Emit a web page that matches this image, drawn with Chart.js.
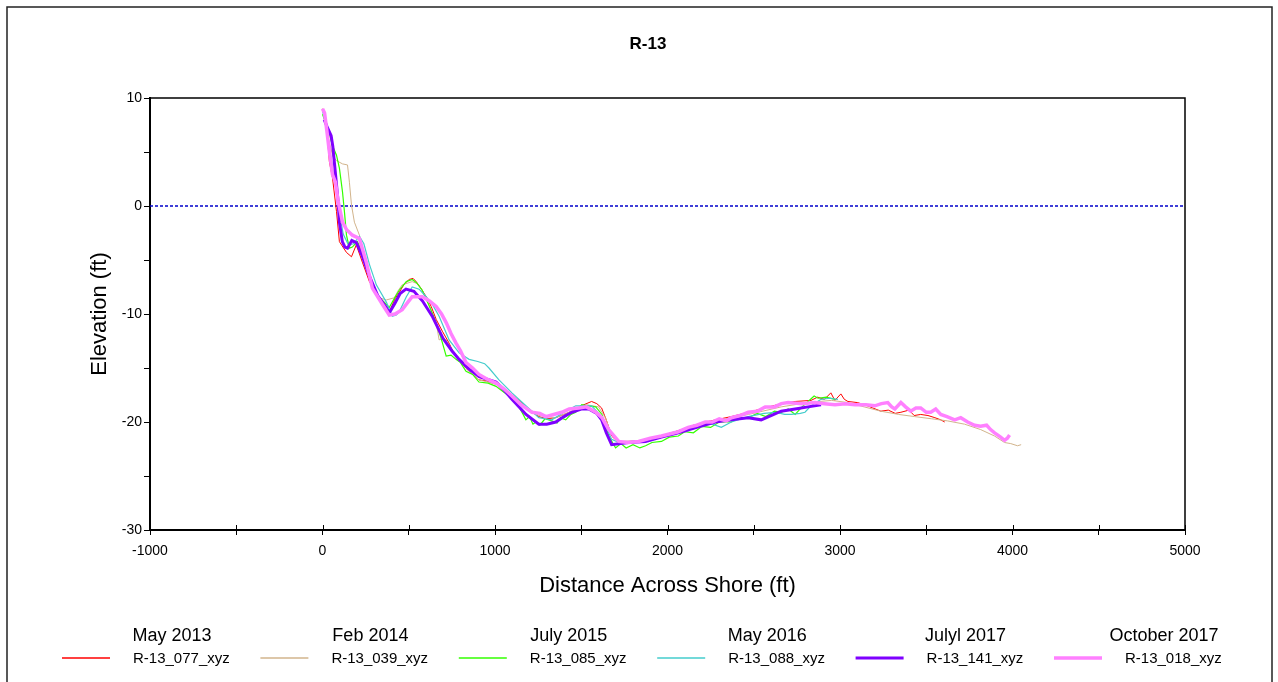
<!DOCTYPE html>
<html>
<head>
<meta charset="utf-8">
<script src="https://cdn.jsdelivr.net/npm/chart.js@4/dist/chart.umd.min.js"></script>
<style>
  html, body { margin: 0; padding: 0; background: #fff; }
  canvas { display: block; }
</style>
</head>
<body>
<canvas id="profileChart" width="1278" height="682"></canvas>
<script>
// survey dates and file names shown in the legend
const surveyDates = ["May 2013", "Feb 2014", "July 2015", "May 2016", "Julyl 2017", "October 2017"];
const surveyFiles = ["R-13_077_xyz", "R-13_039_xyz", "R-13_085_xyz", "R-13_088_xyz", "R-13_141_xyz", "R-13_018_xyz"];

// [distance across shore (ft), elevation (ft)]
const may2013 = [[0,9.0],[20,8.0],[40,4.1],[58,2.6],[81,-0.5],[98,-3.3],[139,-4.3],[168,-4.7],[196,-3.6],[231,-5.2],[272,-7.0],[329,-8.5],[370,-9.4],[387,-9.8],[420,-8.6],[445,-8.0],[475,-7.2],[503,-6.8],[525,-6.7],[543,-7.0],[570,-7.6],[601,-8.4],[630,-9.3],[659,-10.5],[695,-11.6],[734,-12.7],[760,-13.6],[792,-14.2],[830,-15.0],[870,-15.6],[907,-16.1],[950,-16.2],[1006,-16.5],[1050,-16.9],[1098,-17.5],[1140,-18.0],[1179,-18.6],[1215,-19.1],[1254,-19.5],[1300,-19.7],[1352,-19.6],[1400,-19.3],[1445,-19.0],[1500,-18.5],[1560,-18.1],[1590,-18.3],[1618,-18.7],[1645,-19.8],[1676,-21.3],[1717,-21.9],[1780,-21.9],[1873,-21.8],[1960,-21.3],[2063,-20.8],[2150,-20.3],[2250,-19.9],[2370,-19.5],[2470,-19.1],[2588,-18.6],[2686,-18.2],[2740,-18.1],[2832,-18.0],[2870,-17.7],[2910,-17.9],[2947,-17.3],[2970,-18.0],[3005,-17.4],[3025,-17.9],[3046,-18.1],[3100,-18.2],[3144,-18.4],[3190,-18.7],[3237,-19.0],[3280,-18.9],[3320,-19.2],[3353,-19.1],[3400,-18.9],[3430,-19.4],[3468,-19.3],[3510,-19.4],[3550,-19.6],[3584,-19.8],[3607,-20.0]];
const feb2014 = [[0,9.0],[30,6.5],[60,4.6],[81,4.2],[116,3.9],[145,3.8],[156,2.2],[168,0.1],[185,-1.5],[214,-2.7],[243,-4.5],[283,-7.0],[329,-8.5],[370,-8.7],[416,-8.5],[440,-7.8],[462,-7.3],[520,-7.0],[550,-7.2],[578,-7.8],[620,-9.2],[659,-10.8],[676,-12.4],[700,-12.2],[717,-12.4],[750,-13.3],[792,-14.2],[850,-15.3],[907,-16.1],[960,-16.3],[1006,-16.5],[1098,-17.5],[1179,-18.6],[1254,-19.4],[1352,-19.6],[1445,-19.0],[1530,-18.4],[1600,-18.6],[1640,-19.6],[1676,-21.2],[1717,-21.8],[1873,-21.7],[2063,-20.8],[2250,-20.0],[2470,-19.3],[2659,-18.6],[2815,-18.2],[2950,-18.0],[3046,-18.2],[3140,-18.6],[3237,-19.0],[3340,-19.3],[3433,-19.5],[3530,-19.7],[3624,-19.9],[3722,-20.2],[3815,-20.7],[3896,-21.3],[3954,-21.9],[3990,-22.0],[4029,-22.2],[4050,-22.1]];
const july2015 = [[0,8.5],[30,7.2],[60,5.5],[81,4.7],[98,3.5],[116,1.3],[127,-0.5],[139,-2.7],[156,-3.9],[173,-3.8],[202,-3.3],[231,-4.3],[272,-6.4],[312,-8.2],[358,-8.9],[387,-9.4],[415,-8.6],[445,-7.8],[486,-7.0],[520,-6.8],[545,-7.1],[578,-7.8],[620,-9.3],[659,-10.8],[694,-12.6],[717,-13.9],[745,-13.8],[774,-14.2],[800,-14.5],[832,-15.3],[870,-15.6],[907,-16.3],[960,-16.4],[1006,-16.7],[1040,-17.1],[1081,-17.6],[1110,-18.0],[1139,-18.6],[1160,-19.2],[1179,-19.8],[1200,-19.5],[1220,-20.2],[1237,-20.0],[1260,-20.3],[1290,-19.7],[1329,-19.9],[1360,-20.1],[1380,-19.6],[1410,-19.8],[1440,-19.3],[1468,-19.1],[1503,-18.4],[1540,-18.5],[1584,-18.6],[1620,-19.3],[1659,-21.3],[1699,-22.4],[1730,-22.0],[1760,-22.4],[1800,-22.1],[1840,-22.4],[1873,-22.2],[1910,-21.9],[1965,-21.8],[2010,-21.4],[2063,-21.3],[2100,-20.9],[2150,-21.0],[2200,-20.4],[2250,-20.5],[2300,-20.0],[2370,-20.0],[2420,-19.6],[2468,-19.6],[2520,-19.2],[2570,-19.5],[2620,-19.0],[2659,-19.1],[2700,-18.8],[2740,-19.3],[2780,-18.6],[2815,-18.1],[2850,-17.6],[2873,-17.8],[2920,-17.7],[2971,-17.9]];
const may2016 = [[0,8.8],[25,7.2],[40,5.4],[60,3.5],[80,1.5],[100,-0.8],[120,-2.6],[150,-3.6],[180,-3.5],[214,-2.8],[240,-3.5],[272,-5.4],[312,-7.3],[370,-8.9],[405,-10.2],[428,-10.1],[445,-9.8],[486,-8.4],[520,-7.5],[560,-7.7],[601,-8.4],[640,-9.2],[676,-10.2],[734,-12.4],[792,-13.6],[850,-14.2],[900,-14.4],[940,-14.6],[965,-15.0],[1023,-16.1],[1098,-17.3],[1179,-18.5],[1254,-19.6],[1329,-19.8],[1410,-19.0],[1468,-18.5],[1560,-18.5],[1618,-19.5],[1676,-21.6],[1720,-21.9],[1873,-21.8],[2063,-20.9],[2200,-20.2],[2260,-20.2],[2312,-20.5],[2370,-20.0],[2468,-19.5],[2560,-19.2],[2624,-19.1],[2680,-19.3],[2717,-19.3],[2770,-19.2],[2797,-19.1],[2832,-18.5],[2890,-17.9],[2940,-17.8],[2988,-17.9]];
const july2017 = [[10,8.0],[30,7.2],[50,6.5],[60,5.5],[75,3.0],[90,0.5],[98,-1.5],[115,-3.3],[130,-3.8],[145,-3.9],[170,-3.2],[196,-3.4],[230,-4.6],[272,-6.5],[320,-8.3],[370,-9.4],[387,-9.9],[420,-9.0],[450,-8.1],[484,-7.7],[530,-7.9],[580,-8.8],[636,-10.2],[700,-12.3],[750,-13.4],[792,-14.2],[850,-15.1],[908,-15.8],[1006,-16.3],[1050,-17.0],[1098,-17.9],[1180,-19.3],[1254,-20.2],[1300,-20.2],[1352,-20.0],[1400,-19.5],[1445,-19.1],[1500,-18.8],[1543,-18.8],[1590,-19.2],[1618,-19.8],[1645,-21.0],[1676,-22.1],[1775,-21.9],[1873,-21.8],[1965,-21.4],[2063,-21.0],[2170,-20.5],[2277,-20.0],[2370,-19.8],[2468,-19.6],[2543,-19.8],[2600,-19.4],[2659,-19.0],[2740,-18.8],[2815,-18.6],[2890,-18.4]];
const oct2017 = [[0,9.0],[12,8.6],[25,7.0],[40,5.0],[58,2.9],[75,2.2],[90,0.5],[116,-1.5],[140,-2.2],[173,-2.7],[214,-3.0],[254,-5.2],[289,-7.6],[347,-9.1],[387,-10.1],[420,-10.0],[462,-9.6],[495,-8.9],[520,-8.4],[578,-8.4],[620,-8.8],[659,-9.3],[690,-10.0],[717,-10.8],[745,-11.8],[774,-12.7],[800,-13.4],[832,-14.5],[870,-15.0],[907,-15.6],[950,-16.0],[1006,-16.4],[1050,-16.9],[1098,-17.6],[1150,-18.4],[1214,-19.1],[1260,-19.2],[1295,-19.5],[1340,-19.3],[1387,-19.1],[1430,-18.8],[1486,-18.7],[1530,-18.6],[1584,-19.1],[1620,-19.6],[1659,-20.7],[1717,-21.8],[1770,-21.9],[1832,-21.8],[1900,-21.5],[1965,-21.3],[2063,-20.9],[2120,-20.5],[2170,-20.3],[2219,-20.0],[2260,-20.0],[2300,-19.7],[2340,-19.9],[2370,-19.6],[2420,-19.4],[2468,-19.1],[2520,-19.0],[2566,-18.6],[2620,-18.6],[2660,-18.3],[2699,-18.2],[2780,-18.3],[2855,-18.2],[2910,-18.3],[2971,-18.4],[3030,-18.3],[3087,-18.4],[3150,-18.4],[3202,-18.5],[3240,-18.3],[3277,-18.2],[3300,-18.6],[3318,-18.8],[3353,-18.2],[3380,-18.6],[3410,-19.0],[3440,-18.7],[3468,-18.7],[3500,-19.1],[3526,-19.1],[3555,-18.8],[3584,-19.3],[3620,-19.5],[3665,-19.8],[3700,-19.6],[3740,-20.0],[3780,-20.3],[3815,-20.4],[3850,-20.3],[3873,-20.7],[3896,-21.0],[3931,-21.4],[3954,-21.7],[3970,-21.5],[3983,-21.2]];

// mean water level reference
const zeroLine = [[-1000,0],[5000,0]];

const profiles = [may2013, feb2014, july2015, may2016, july2017, oct2017];
const colors = ["#ff0000", "#d2b48c", "#33ff00", "#44cccc", "#7f00ff", "#ff80ff"];
const widths = [1, 1, 1.2, 1.2, 3, 3.5];

const FONT = "'Liberation Sans', Arial, sans-serif";

const toXY = pts => pts.map(p => ({ x: p[0], y: p[1] }));

const datasets = profiles.map((pts, i) => ({
    label: surveyFiles[i],
    data: toXY(pts),
    borderColor: colors[i],
    borderWidth: widths[i],
    pointRadius: 0,
    showLine: true,
    tension: 0,
    order: profiles.length - i
}));

datasets.push({
    label: "zero",
    data: toXY(zeroLine),
    borderColor: "#0000cc",
    borderWidth: 1.5,
    borderDash: [3, 2],
    pointRadius: 0,
    showLine: true,
    order: 20
});

// frame, title, inward x ticks and the two-line legend
const decorations = {
    id: "decorations",
    beforeDraw(chart) {
        const ctx = chart.ctx;
        ctx.save();
        ctx.fillStyle = "#fff";
        ctx.fillRect(0, 0, chart.width, chart.height);
        ctx.strokeStyle = "#222";
        ctx.lineWidth = 1.5;
        ctx.strokeRect(7, 7, 1265, 700);
        ctx.restore();
    },
    afterDraw(chart) {
        const ctx = chart.ctx;
        const a = chart.chartArea;
        const xs = chart.scales.x;
        ctx.save();

        // top and right border of the plot
        ctx.strokeStyle = "#000";
        ctx.lineWidth = 1.5;
        ctx.beginPath();
        ctx.moveTo(a.left, a.top);
        ctx.lineTo(a.right, a.top);
        ctx.lineTo(a.right, a.bottom);
        ctx.stroke();

        // x ticks also reach into the plot
        ctx.lineWidth = 1;
        xs.ticks.forEach(t => {
            const px = Math.round(xs.getPixelForValue(t.value)) + 0.5;
            ctx.beginPath();
            ctx.moveTo(px, a.bottom);
            ctx.lineTo(px, a.bottom - 5);
            ctx.stroke();
        });

        ctx.fillStyle = "#000";
        ctx.textAlign = "center";
        ctx.textBaseline = "middle";
        ctx.font = "bold 17px " + FONT;
        ctx.fillText("R-13", 648, 44);

        surveyDates.forEach((d, i) => {
            const x0 = 62 + i * 198.4;
            ctx.font = "18px " + FONT;
            ctx.textAlign = "center";
            ctx.fillStyle = "#000";
            ctx.fillText(d, x0 + 110, 636);

            ctx.strokeStyle = colors[i];
            ctx.lineWidth = Math.max(1.5, widths[i]);
            ctx.beginPath();
            ctx.moveTo(x0, 658);
            ctx.lineTo(x0 + 48, 658);
            ctx.stroke();

            ctx.font = "15px " + FONT;
            ctx.textAlign = "left";
            ctx.fillText(surveyFiles[i], x0 + 71, 659);
        });
        ctx.restore();
    }
};

new Chart(document.getElementById("profileChart"), {
    type: "scatter",
    data: { datasets: datasets },
    plugins: [decorations],
    options: {
        responsive: false,
        animation: false,
        devicePixelRatio: 1,
        layout: { padding: { left: 83, right: 93, top: 98, bottom: 79 } },
        plugins: {
            legend: { display: false },
            tooltip: { enabled: false }
        },
        scales: {
            x: {
                type: "linear",
                min: -1000,
                max: 5000,
                afterFit: s => { s.height = 73; },
                ticks: {
                    stepSize: 500,
                    autoSkip: false,
                    maxRotation: 0,
                    padding: 8,
                    color: "#000",
                    font: { family: FONT, size: 14 },
                    callback: v => (v % 1000 === 0 ? v : "")
                },
                grid: { drawOnChartArea: false, tickLength: 5, color: "#000" },
                border: { color: "#000", width: 2 },
                title: {
                    display: true,
                    text: "Distance Across Shore (ft)",
                    color: "#000",
                    font: { family: FONT, size: 22 }
                }
            },
            y: {
                min: -30,
                max: 10,
                afterFit: s => { s.width = 67; },
                ticks: {
                    stepSize: 5,
                    autoSkip: false,
                    padding: 2,
                    color: "#000",
                    font: { family: FONT, size: 14 },
                    callback: v => (v % 10 === 0 ? v : "")
                },
                grid: { drawOnChartArea: false, tickLength: 6, color: "#000" },
                border: { color: "#000", width: 2 },
                title: {
                    display: true,
                    text: "Elevation (ft)",
                    color: "#000",
                    font: { family: FONT, size: 22 }
                }
            }
        }
    }
});
</script>
</body>
</html>
